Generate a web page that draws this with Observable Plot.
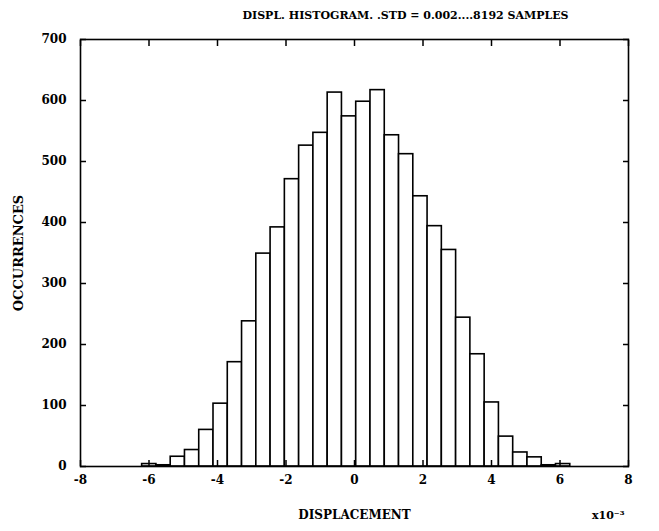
<!DOCTYPE html>
<html>
<head>
<meta charset="utf-8">
<script src="https://cdn.jsdelivr.net/npm/d3@7"></script>
<script src="https://cdn.jsdelivr.net/npm/@observablehq/plot@0.6"></script>
<style>
  html, body { margin: 0; padding: 0; background: white; }
  #chart svg { display: block; }
</style>
</head>
<body>
<div id="chart"></div>
<script>
// Histogram definition (displacement in units of 1e-3)
const histMin = -6.2;
const histMax = 6.3;
const binCount = 30;
// Occurrences per bin
const counts = [4, 2, 16, 27, 60, 103, 171, 238, 349, 392, 471, 526, 547, 613, 574, 598, 617, 543, 512, 443, 394, 355, 244, 184, 105, 49, 23, 15, 2, 4];
// Axis ticks
const xTicks = [-8, -6, -4, -2, 0, 2, 4, 6, 8];
const yTicks = [0, 100, 200, 300, 400, 500, 600, 700];
const titleText = "DISPL. HISTOGRAM. .STD = 0.002....8192 SAMPLES";
const xLabel = "DISPLACEMENT";
const yLabel = "OCCURRENCES";
const xUnit = "x10⁻³";

const binWidth = (histMax - histMin) / binCount;
const bins = counts.map((c, i) => ({x1: histMin + i * binWidth, x2: histMin + (i + 1) * binWidth, count: c}));

const font = "'DejaVu Serif', serif";
const fmt = d => String(d);

const chart = Plot.plot({
  width: 659,
  height: 531,
  marginLeft: 80,
  marginRight: 31,
  marginTop: 39,
  marginBottom: 65,
  style: {fontFamily: font, fontWeight: "bold", fontSize: "12px", color: "black", background: "white"},
  x: {domain: [-8, 8], axis: null},
  y: {domain: [0, 700], axis: null},
  marks: [
    Plot.rectY(bins, {x1: "x1", x2: "x2", y: "count", fill: "white", stroke: "black", strokeWidth: 1.6}),
    Plot.frame({stroke: "black", strokeWidth: 1.6}),
    // inward ticks
    Plot.axisX({anchor: "bottom", ticks: xTicks, tickSize: 6, dy: -6, fill: "none", label: null, strokeWidth: 1.5}),
    Plot.axisX({anchor: "top", ticks: xTicks, tickSize: 6, dy: 6, fill: "none", label: null, strokeWidth: 1.5}),
    Plot.axisY({anchor: "left", ticks: yTicks, tickSize: 6, dx: 6, fill: "none", label: null, strokeWidth: 1.5}),
    Plot.axisY({anchor: "right", ticks: yTicks, tickSize: 6, dx: -6, fill: "none", label: null, strokeWidth: 1.5}),
    // tick labels
    Plot.axisX({anchor: "bottom", ticks: xTicks, tickSize: 0, tickPadding: 9, stroke: "none", label: null, tickFormat: fmt, fontSize: 12}),
    Plot.axisY({anchor: "left", ticks: yTicks, tickSize: 0, tickPadding: 14, stroke: "none", label: null, tickFormat: fmt, fontSize: 12}),
    // texts
    Plot.text([titleText], {text: d => d, frameAnchor: "top", dx: 51, dy: -28, fontSize: 11, fontWeight: "bold"}),
    Plot.text([xLabel], {text: d => d, frameAnchor: "bottom", dy: 52, fontSize: 12, fontWeight: "bold"}),
    Plot.text([xUnit], {text: d => d, frameAnchor: "bottom-right", dx: -4, dy: 52, fontSize: 11, fontWeight: "bold"}),
    Plot.text([yLabel], {text: d => d, frameAnchor: "left", textAnchor: "middle", dx: -62, rotate: -90, fontSize: 13, fontWeight: "bold"})
  ]
});
document.getElementById("chart").appendChild(chart);
</script>
</body>
</html>
